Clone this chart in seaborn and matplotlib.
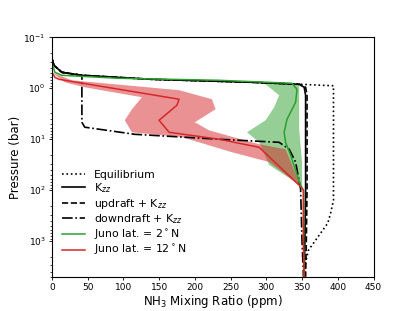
import matplotlib
matplotlib.use("Agg")
import matplotlib.pyplot as plt
import numpy as np
import seaborn as sns

# Model profiles (ppm vs pressure in bar)
eq_ppm = [0, 0, 2.8, 14, 42, 140, 280, 348, 394, 394, 390, 386, 376, 366, 359, 355, 353]
eq_p = [0.1, 0.258, 0.354, 0.486, 0.556, 0.667, 0.763, 0.835, 0.893, 157, 282, 444, 697, 1096, 1500, 2600, 5000]

kzz_ppm = [0, 0, 2.8, 14, 42, 140, 280, 346, 353, 355, 355, 354, 353]
kzz_p = [0.1, 0.258, 0.354, 0.486, 0.556, 0.667, 0.763, 0.835, 0.955, 1.37, 100, 1000, 5000]

up_ppm = [0, 0, 2.8, 14, 42, 140, 280, 347, 355, 357, 357, 356, 355]
up_p = [0.1, 0.258, 0.354, 0.486, 0.556, 0.667, 0.763, 0.835, 0.955, 1.37, 100, 1000, 5000]

down_ppm = [0, 0, 2.8, 14, 42, 42, 46, 116, 234, 318, 332, 341, 348, 350, 352]
down_p = [0.1, 0.258, 0.354, 0.486, 0.556, 4.64, 5.8, 8.0, 10, 11.5, 15.7, 28, 95, 1000, 5000]

# Juno 2N
g_ppm = [0, 0, 4.2, 14, 94, 234, 336, 343, 341, 329, 325, 327, 334, 348, 352, 352, 353]
g_p = [0.1, 0.31, 0.486, 0.556, 0.637, 0.697, 0.798, 1.05, 1.88, 4.05, 7.3, 11.5, 20.6, 80, 100, 1000, 5000]
g_lo_ppm = [286, 299, 318, 311, 299, 273, 290, 304, 348, 352]
g_lo_p = [0.763, 0.835, 1.37, 2.36, 4.24, 7.3, 11.5, 32, 80, 100]
g_hi_ppm = [286, 346, 346, 346, 350, 350, 352]
g_hi_p = [0.763, 0.835, 1.37, 6.4, 28, 80, 100]

# Juno 12N
r_ppm = [0, 0, 4.2, 10, 178, 175, 150, 164, 234, 290, 346, 352, 352, 353]
r_p = [0.1, 0.486, 0.61, 0.667, 1.64, 2.15, 4.24, 7.3, 10, 14.4, 80, 100, 1000, 5000]
r_lo_ppm = [0, 18, 46, 126, 112, 102, 112, 182, 252, 304, 346, 352]
r_lo_p = [0.486, 0.763, 0.955, 1.5, 2.58, 4.24, 7.3, 9.1, 18, 28, 80, 100]
r_hi_ppm = [0, 28, 178, 224, 229, 200, 220, 280, 290, 327, 348, 352]
r_hi_p = [0.486, 0.697, 1.09, 1.64, 2.58, 4.64, 6.7, 11.5, 12.5, 15.7, 80, 100]

green = "#2ca02c"
red = "#d62728"

fig, ax = plt.subplots(figsize=(4.15, 3.11), dpi=100)

# uncertainty bands
ax.fill(np.concatenate([g_lo_ppm, g_hi_ppm[::-1]]), np.concatenate([g_lo_p, g_hi_p[::-1]]),
        color=green, alpha=0.5, lw=0)
ax.fill(np.concatenate([r_lo_ppm, r_hi_ppm[::-1]]), np.concatenate([r_lo_p, r_hi_p[::-1]]),
        color=red, alpha=0.5, lw=0)

kw = dict(ax=ax, sort=False, estimator=None, orient="y")
sns.lineplot(x=eq_ppm, y=eq_p, color="k", linestyle=":", lw=1.2, label="Equilibrium", **kw)
sns.lineplot(x=kzz_ppm, y=kzz_p, color="k", linestyle="-", lw=1.2, label=r"K$_{zz}$", **kw)
sns.lineplot(x=up_ppm, y=up_p, color="k", linestyle="--", lw=1.2, label=r"updraft + K$_{zz}$", **kw)
sns.lineplot(x=down_ppm, y=down_p, color="k", linestyle="-.", lw=1.2, label=r"downdraft + K$_{zz}$", **kw)
sns.lineplot(x=g_ppm, y=g_p, color=green, lw=1.1, label=r"Juno lat. = 2$^\circ$N", **kw)
sns.lineplot(x=r_ppm, y=r_p, color=red, lw=1.1, label=r"Juno lat. = 12$^\circ$N", **kw)

ax.set_yscale("log")
ax.set_ylim(5000, 0.1)
ax.set_xlim(0, 450)
ax.set_xticks(np.arange(0, 451, 50))
ax.set_xlabel(r"NH$_3$ Mixing Ratio (ppm)", fontsize=8.5, labelpad=1)
ax.set_ylabel("Pressure (bar)", fontsize=8.5, labelpad=1)
ax.tick_params(labelsize=6.5, width=0.6, length=2.5, pad=2)
ax.tick_params(which="minor", width=0.5, length=1.5)
for s in ax.spines.values():
    s.set_linewidth(0.8)
ax.legend(loc="lower left", bbox_to_anchor=(0.0, 0.04), frameon=False, fontsize=7.8,
          handlelength=2.2, labelspacing=0.15)

fig.subplots_adjust(left=0.125, right=0.9, top=0.88, bottom=0.11)
fig.savefig("out.png", dpi=100)
